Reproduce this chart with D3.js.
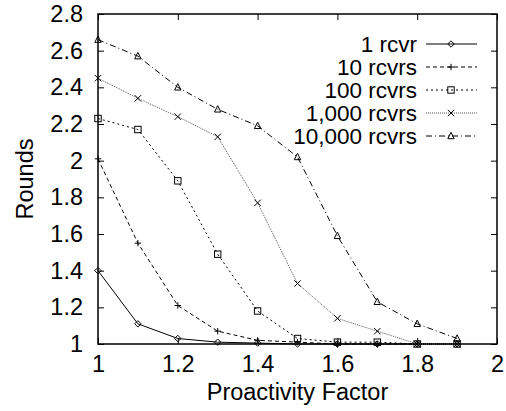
<!DOCTYPE html>
<html><head><meta charset="utf-8">
<script src="https://cdn.jsdelivr.net/npm/d3@7"></script>
<style>body{margin:0;background:#fff}svg{display:block}text{font-family:"Liberation Sans",Arial,sans-serif;fill:#000}</style>
</head><body>
<script>
const xValues = [1.0,1.1,1.2,1.3,1.4,1.5,1.6,1.7,1.8,1.9];
const seriesNames = ["1 rcvr","10 rcvrs","100 rcvrs","1,000 rcvrs","10,000 rcvrs"];
const s1 = [1.40,1.11,1.03,1.01,1.005,1.0,1.0,1.0,1.0,1.0];
const s10 = [2.01,1.55,1.21,1.07,1.02,1.01,1.0,1.0,1.0,1.0];
const s100 = [2.23,2.17,1.89,1.49,1.18,1.03,1.01,1.01,1.0,1.0];
const s1000 = [2.45,2.34,2.24,2.13,1.77,1.33,1.14,1.07,1.0,1.0];
const s10000 = [2.66,2.57,2.40,2.28,2.19,2.02,1.59,1.23,1.11,1.03];
const xTicks = [1,1.2,1.4,1.6,1.8,2];
const yTicks = [1,1.2,1.4,1.6,1.8,2,2.2,2.4,2.6,2.8];
const seriesValues = [s1,s10,s100,s1000,s10000];
const dashes = [null,"4,3","2,3","1,1","6,3,1,3"];
const markers = ["diamond","plus","square","cross","triangle"];

const W=506,H=411;
const L=98,R=497,T=14,B=344;
const svg=d3.select("body").append("svg").attr("width",W).attr("height",H);
const x=d3.scaleLinear().domain([1,2]).range([L,R]);
const y=d3.scaleLinear().domain([1,2.8]).range([B,T]);

const fs=23.5, lfs=22.5;
const ff="Liberation Sans, Arial, sans-serif";
const tl=6;
svg.append("g").attr("transform",`translate(0,${B})`)
  .call(d3.axisBottom(x).tickValues(xTicks).tickSize(-tl).tickPadding(11).tickFormat(d3.format("")))
  .call(g=>{g.select(".domain").remove();g.selectAll("text").attr("font-size",fs).attr("font-family",ff);});
svg.append("g").attr("transform",`translate(0,${T})`)
  .call(d3.axisTop(x).tickValues(xTicks).tickSize(-tl).tickFormat(""))
  .call(g=>g.select(".domain").remove());
svg.append("g").attr("transform",`translate(${L},0)`)
  .call(d3.axisLeft(y).tickValues(yTicks).tickSize(-tl).tickPadding(15).tickFormat(d3.format("")))
  .call(g=>{g.select(".domain").remove();g.selectAll("text").attr("font-size",fs).attr("font-family",ff);});
svg.append("g").attr("transform",`translate(${R},0)`)
  .call(d3.axisRight(y).tickValues(yTicks).tickSize(-tl).tickFormat(""))
  .call(g=>g.select(".domain").remove());

svg.append("rect").attr("x",L).attr("y",T).attr("width",R-L).attr("height",B-T)
  .attr("fill","none").attr("stroke","#000").attr("stroke-width",1.5);

function marker(g,type,cx,cy){
  const s=3.2;
  if(type==="diamond") g.append("path").attr("d",`M${cx},${cy-s}L${cx+s},${cy}L${cx},${cy+s}L${cx-s},${cy}Z`).attr("fill","none").attr("stroke","#000");
  else if(type==="plus") g.append("path").attr("d",`M${cx-s},${cy}H${cx+s}M${cx},${cy-s}V${cy+s}`).attr("stroke","#000");
  else if(type==="square") g.append("rect").attr("x",cx-s).attr("y",cy-s).attr("width",2*s).attr("height",2*s).attr("fill","none").attr("stroke","#000");
  else if(type==="cross") g.append("path").attr("d",`M${cx-s},${cy-s}L${cx+s},${cy+s}M${cx-s},${cy+s}L${cx+s},${cy-s}`).attr("stroke","#000");
  else if(type==="triangle") g.append("path").attr("d",`M${cx},${cy-s-0.5}L${cx+s},${cy+s-0.5}L${cx-s},${cy+s-0.5}Z`).attr("fill","none").attr("stroke","#000");
}

const line=d3.line().x((d,i)=>x(xValues[i])).y(d=>y(d));
seriesValues.forEach((vals,k)=>{
  const g=svg.append("g");
  g.append("path").attr("d",line(vals)).attr("fill","none").attr("stroke",k===3?"#555":"#000")
    .attr("stroke-width",1).attr("stroke-dasharray",dashes[k]);
  vals.forEach((v,i)=>marker(g,markers[k],x(xValues[i]),y(v)));
});

const legY0=44, legStep=23;
seriesNames.forEach((n,k)=>{
  const ly=legY0+k*legStep;
  svg.append("text").attr("x",417).attr("y",ly).attr("dy","0.35em").attr("text-anchor","end").attr("font-size",lfs).text(n);
  svg.append("line").attr("x1",426).attr("x2",477).attr("y1",ly).attr("y2",ly)
    .attr("stroke",k===3?"#555":"#000").attr("stroke-width",1).attr("stroke-dasharray",dashes[k]);
  marker(svg,markers[k],451,ly);
});

svg.append("text").attr("x",(L+R)/2).attr("y",400).attr("text-anchor","middle").attr("font-size",fs).text("Proactivity Factor");
svg.append("text").attr("transform",`translate(33,${(T+B)/2}) rotate(-90)`).attr("text-anchor","middle").attr("font-size",fs).text("Rounds");
</script>
</body></html>
